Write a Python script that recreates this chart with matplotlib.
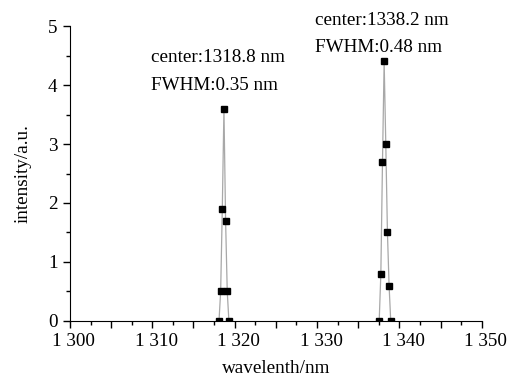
import matplotlib.pyplot as plt
import matplotlib.transforms as mtransforms
from matplotlib.ticker import MultipleLocator, FuncFormatter

# --- data ---
peak1_x = [1318.1, 1318.3, 1318.5, 1318.7, 1318.9, 1319.1, 1319.3]
peak1_y = [0, 0.5, 1.9, 3.6, 1.7, 0.5, 0]
peak2_x = [1337.55, 1337.75, 1337.95, 1338.15, 1338.35, 1338.55, 1338.75, 1338.95]
peak2_y = [0, 0.8, 2.7, 4.4, 3.0, 1.5, 0.6, 0]
notes = [("center:1318.8 nm", "FWHM:0.35 nm"), ("center:1338.2 nm", "FWHM:0.48 nm")]

plt.rcParams['font.family'] = ['Liberation Serif', 'DejaVu Serif']
plt.rcParams['font.size'] = 13.8

fig = plt.figure(figsize=(5.18, 3.78), dpi=100)
ax = fig.add_axes([0.135, 0.151, 0.795, 0.78])

for xs, ys in [(peak1_x, peak1_y), (peak2_x, peak2_y)]:
    ax.plot(xs, ys, color='#a8a8a8', lw=0.9, zorder=1)
    ax.plot(xs, ys, ls='none', marker='s', ms=4, color='black', zorder=2)

ax.set_xlim(1300, 1350)
ax.set_ylim(0, 5)

# spaced thousands like "1 300", only every 10 nm labelled
ax.xaxis.set_major_locator(MultipleLocator(5))
ax.xaxis.set_minor_locator(MultipleLocator(2.5))
ax.xaxis.set_major_formatter(FuncFormatter(
    lambda v, p: f"{int(v)//1000} {int(v)%1000:03d}" if round(v) % 10 == 0 else ""))
ax.yaxis.set_major_locator(MultipleLocator(1))
ax.yaxis.set_minor_locator(MultipleLocator(0.5))

for s in ['top', 'right']:
    ax.spines[s].set_visible(False)
ax.tick_params(which='major', direction='out', length=5, width=1, pad=4)
ax.tick_params(axis='y', which='major', pad=4)
ax.tick_params(which='minor', direction='out', length=3, width=1)

# x tick labels sit a little right of their ticks in the reference
shift = mtransforms.ScaledTranslation(4 / 100, 0, fig.dpi_scale_trans)
for lab in ax.get_xticklabels():
    lab.set_transform(lab.get_transform() + shift)

ax.set_xlabel('wavelenth/nm', labelpad=7)
ax.set_ylabel('intensity/a.u.', labelpad=12)

ax.text(1309.9, 4.39, notes[0][0], ha='left', va='baseline')
ax.text(1309.9, 3.92, notes[0][1], ha='left', va='baseline')
ax.text(1329.7, 5.02, notes[1][0], ha='left', va='baseline', clip_on=False)
ax.text(1329.7, 4.56, notes[1][1], ha='left', va='baseline')

fig.savefig('out.png', dpi=100)
